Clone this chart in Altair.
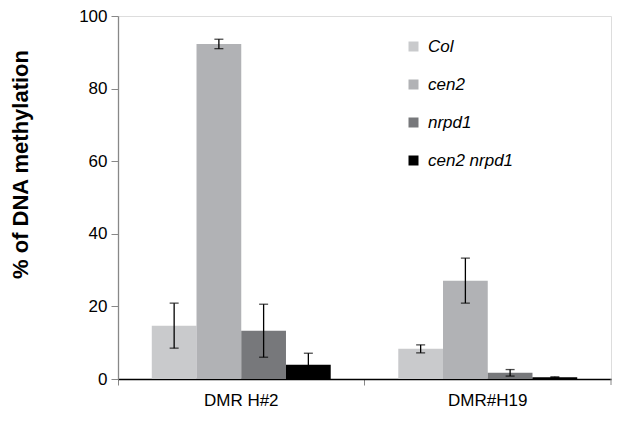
import altair as alt
import pandas as pd

groups = ["DMR H#2", "DMR#H19"]
genotypes = ["Col", "cen2", "nrpd1", "cen2 nrpd1"]
values_h2 = [14.7, 92.3, 13.3, 3.9]
errors_h2 = [6.2, 1.3, 7.3, 3.2]
values_h19 = [8.3, 27.1, 1.7, 0.5]
errors_h19 = [1.1, 6.2, 0.9, 0.1]
colors = ["#c9cacc", "#b1b2b5", "#77787b", "#000000"]

rows = []
for g, vals, errs in [(groups[0], values_h2, errors_h2), (groups[1], values_h19, errors_h19)]:
    for gt, v, e in zip(genotypes, vals, errs):
        rows.append({"group": g, "genotype": gt, "value": v, "lo": v - e, "hi": v + e})
df = pd.DataFrame(rows)

W, H = 493, 363

x = alt.X("group:N", sort=groups, title=None,
          scale=alt.Scale(paddingInner=0, paddingOuter=0),
          axis=alt.Axis(labelAngle=0, labelFontSize=17, labelColor="#000", labelPadding=7,
                        domainColor="#000", domainWidth=1.3, tickColor="#888", tickSize=6,
                        bandPosition=0, labelFont="Liberation Sans"))
xo = alt.XOffset("genotype:N", sort=genotypes, scale=alt.Scale(paddingOuter=0.755, paddingInner=0))

base = alt.Chart(df)

bars = base.mark_bar().encode(
    x=x, xOffset=xo,
    y=alt.Y("value:Q", title="% of DNA  methylation",
            scale=alt.Scale(domain=[0, 100], nice=False),
            axis=alt.Axis(values=[0, 20, 40, 60, 80, 100], grid=False, labelFontSize=17,
                          labelColor="#000", labelFont="Liberation Sans", domainColor="#888",
                          domainWidth=1.3, tickColor="#888", tickSize=7, labelPadding=4,
                          titleFontSize=22, titleFontWeight="bold", titleFont="Liberation Sans",
                          titleColor="#000", titleAngle=-90, titleX=-86, titleY=148,
                          titleAlign="center", titleBaseline="bottom")),
    color=alt.Color("genotype:N", sort=genotypes,
                    scale=alt.Scale(domain=genotypes, range=colors),
                    legend=alt.Legend(title=None, orient="none", legendX=287, legendY=22,
                                      symbolType="square", symbolSize=100, symbolStrokeWidth=0,
                                      labelFontSize=17, labelFontStyle="italic",
                                      labelFont="Liberation Sans", labelColor="#000",
                                      rowPadding=20, labelOffset=6, padding=0)),
)

rules = base.mark_rule(color="#000", strokeWidth=1.3).encode(
    x=alt.X("group:N", sort=groups), xOffset=xo,
    y="lo:Q", y2="hi:Q")
cap_lo = base.mark_tick(color="#000", thickness=1.3, size=9).encode(
    x=alt.X("group:N", sort=groups), xOffset=xo, y="lo:Q")
cap_hi = base.mark_tick(color="#000", thickness=1.3, size=9).encode(
    x=alt.X("group:N", sort=groups), xOffset=xo, y="hi:Q")

end_tick = alt.Chart(pd.DataFrame({"a": [0]})).mark_rule(color="#888", strokeWidth=1).encode(
    x=alt.value(W), y=alt.value(H), y2=alt.value(H + 6))

chart = alt.layer(bars, rules, cap_lo, cap_hi, end_tick).properties(
    width=W, height=H,
    autosize=alt.AutoSizeParams(type="none"),
    padding={"left": 110, "top": 8, "right": 5, "bottom": 40},
).configure_view(stroke=None).configure(background="#ffffff")

chart.save("out.html", embed_options={"renderer": "svg", "actions": False})
